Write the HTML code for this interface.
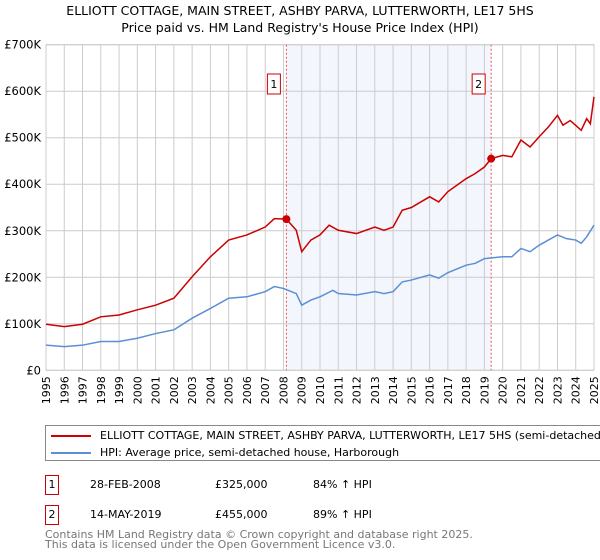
<!DOCTYPE html>
<html><head><meta charset="utf-8"><style>
body{margin:0;width:600px;height:560px;background:#fff;font-family:"DejaVu Sans","Liberation Sans",sans-serif;overflow:hidden;position:relative}
.t{position:absolute;white-space:nowrap;color:#000}
</style></head><body>
<div class="t" style="left:0;width:600px;text-align:center;top:3px;font-size:12.5px">ELLIOTT COTTAGE, MAIN STREET, ASHBY PARVA, LUTTERWORTH, LE17 5HS</div>
<div class="t" style="left:0;width:600px;text-align:center;top:20px;font-size:12.5px">Price paid vs. HM Land Registry's House Price Index (HPI)</div>
<svg id="chart" width="600" height="420" style="position:absolute;left:0;top:0" font-family="DejaVu Sans, Liberation Sans, sans-serif"></svg>
<div style="position:absolute;left:45px;top:425px;width:555px;height:36px;overflow:hidden">
<div style="position:absolute;left:0;top:0;width:600px;height:36px;border:1px solid #888;box-sizing:border-box">
 <div style="position:absolute;left:5px;top:3px;font-size:11px;white-space:nowrap"><span style="display:inline-block;width:40px;height:2px;background:#cc0000;vertical-align:middle;margin-right:9px"></span>ELLIOTT COTTAGE, MAIN STREET, ASHBY PARVA, LUTTERWORTH, LE17 5HS (semi-detached house)</div>
 <div style="position:absolute;left:5px;top:20px;font-size:11px;white-space:nowrap"><span style="display:inline-block;width:40px;height:2px;background:#5b8fd4;vertical-align:middle;margin-right:9px"></span>HPI: Average price, semi-detached house, Harborough</div>
</div>
</div>
<div>
<div class="t" style="left:45px;top:475px;width:12px;height:18px;border:1px solid #cc0000;font-size:11px;text-align:center;line-height:18px">1</div>
<div class="t" style="left:90px;top:478px;font-size:11px">28-FEB-2008</div>
<div class="t" style="left:215px;top:478px;font-size:11px">£325,000</div>
<div class="t" style="left:313px;top:478px;font-size:11px">84% ↑ HPI</div>
</div>
<div>
<div class="t" style="left:45px;top:505px;width:12px;height:18px;border:1px solid #cc0000;font-size:11px;text-align:center;line-height:18px">2</div>
<div class="t" style="left:90px;top:508px;font-size:11px">14-MAY-2019</div>
<div class="t" style="left:215px;top:508px;font-size:11px">£455,000</div>
<div class="t" style="left:313px;top:508px;font-size:11px">89% ↑ HPI</div>
</div>
<div class="t" style="left:45px;top:530px;font-size:11px;color:#777;line-height:10px">Contains HM Land Registry data © Crown copyright and database right 2025.<br>This data is licensed under the Open Government Licence v3.0.</div>
<script>
const redX=[1995,1996,1997,1998,1999,2000,2001,2002,2003,2004,2005,2006,2007,2007.5,2008.16,2008.7,2009,2009.5,2010,2010.5,2011,2012,2013,2013.5,2014,2014.5,2015,2016,2016.5,2017,2018,2018.5,2019,2019.37,2020,2020.5,2021,2021.5,2022,2022.5,2023,2023.3,2023.7,2024.3,2024.6,2024.8,2025];
const redY=[99,94,99,115,119,130,140,155,201,244,280,291,308,326,325,301,255,280,291,312,301,294,308,301,308,344,350,373,362,384,412,423,437,455,462,459,495,480,502,523,548,527,537,516,541,530,588];
const blueX=[1995,1996,1997,1998,1999,2000,2001,2002,2003,2004,2005,2006,2007,2007.5,2008,2008.7,2009,2009.5,2010,2010.7,2011,2012,2013,2013.5,2014,2014.5,2015,2016,2016.5,2017,2018,2018.5,2019,2020,2020.5,2021,2021.5,2022,2022.5,2023,2023.5,2024,2024.3,2024.6,2025];
const blueY=[54,51,54,62,62,69,79,87,112,133,155,158,169,180,176,165,140,151,158,172,165,162,169,165,169,190,194,205,198,210,226,230,240,244,244,262,255,269,280,291,283,280,273,287,312];
const saleX=[2008.16,2019.37];
const saleY=[325,455];
const saleLabels=["1","2"];
const yTicks=[0,100,200,300,400,500,600,700];
const yTickLabels=["£0","£100K","£200K","£300K","£400K","£500K","£600K","£700K"];
const years=[];for(let y=1995;y<=2025;y++)years.push(y);
const X0=46,X1=594,Y0=370.3,Y1=44.7;
const sx=v=>X0+(v-1995)/30*(X1-X0);
const sy=v=>Y0-v/700*(Y0-Y1);
const svg=document.getElementById('chart');const NS='http://www.w3.org/2000/svg';
function mk(t,a,p){const e=document.createElementNS(NS,t);for(const k in a)e.setAttribute(k,a[k]);(p||svg).appendChild(e);return e;}
let e=mk('rect',{x:sx(saleX[0]),y:Y1,width:sx(saleX[1])-sx(saleX[0]),height:Y0-Y1,fill:'#eef3fc',opacity:0.7});


years.forEach(y=>{const l=mk('line',{x1:sx(y),x2:sx(y),y1:Y1,y2:Y0,stroke:'#ccc','stroke-width':1});


const t=mk('text',{x:0,y:0,'font-size':11,'text-anchor':'end',transform:`translate(${sx(y)+4},${Y0+6}) rotate(-90)`});t.textContent=y;

});
yTicks.forEach((v,i)=>{const l=mk('line',{x1:X0,x2:X1,y1:sy(v),y2:sy(v),stroke:'#ccc','stroke-width':1});


const t=mk('text',{x:X0-5,y:sy(v)+4,'font-size':11.5,'text-anchor':'end'});t.textContent=yTickLabels[i];

});
e=mk('rect',{x:X0,y:Y1,width:X1-X0,height:Y0-Y1,fill:'none',stroke:'#ccc'});


saleX.forEach((s,i)=>{const l=mk('line',{x1:sx(s),x2:sx(s),y1:Y1,y2:Y0,stroke:'#ee5555','stroke-dasharray':'2,2','stroke-width':1});


const r=mk('rect',{x:sx(s)-19,y:74,width:13,height:20,fill:'#fff',stroke:'#cc0000'});


const t=mk('text',{x:sx(s)-12.5,y:88,'font-size':11,'text-anchor':'middle'});t.textContent=saleLabels[i];

});
e=mk('polyline',{points:blueX.map((x,i)=>sx(x)+','+sy(blueY[i])).join(' '),fill:'none',stroke:'#5b8fd4','stroke-width':1.5});


e=mk('polyline',{points:redX.map((x,i)=>sx(x)+','+sy(redY[i])).join(' '),fill:'none',stroke:'#cc0000','stroke-width':1.5});


saleX.forEach((s,i)=>{const c=mk('circle',{cx:sx(s),cy:sy(saleY[i]),r:4,fill:'#cc0000'});

});
</script>
</body></html>
